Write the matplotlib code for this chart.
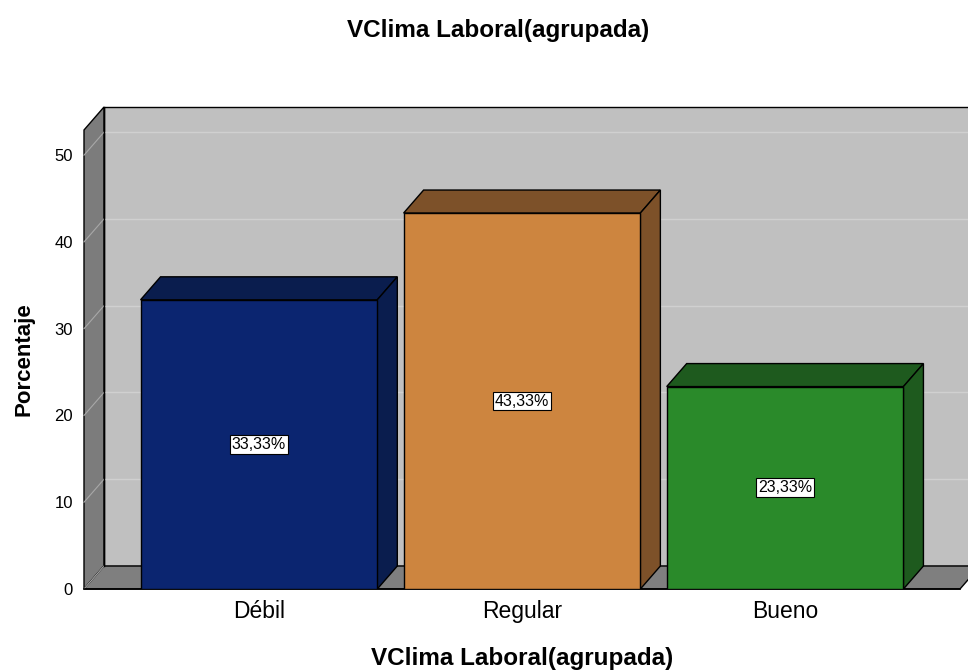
import matplotlib.pyplot as plt
from matplotlib.patches import Polygon, Rectangle

# Data
categories = ["Débil", "Regular", "Bueno"]
percentages = [33.33, 43.33, 23.33]
value_labels = ["33,33%", "43,33%", "23,33%"]
y_ticks = [0, 10, 20, 30, 40, 50]

front_colors = ["#0b2570", "#cd853f", "#2a8a2a"]
shade_colors = ["#0a1d4e", "#7d5129", "#1e5a1e"]

plt.rcParams['font.family'] = ['Liberation Sans', 'DejaVu Sans']

fig = plt.figure(figsize=(9.68, 6.70), dpi=100)
ax = fig.add_axes([84 / 968, 81 / 670, 876 / 968, 459 / 670])

xmin, xmax = -0.665, 2.665
ymax = 52.9
dx, dy = 0.076, 2.65   # depth offset of the pseudo-3D box
bar_w = 0.90

ax.set_xlim(xmin, xmax)
ax.set_ylim(0, ymax)

# back wall
ax.add_patch(Polygon([(xmin + dx, dy), (xmax + dx, dy), (xmax + dx, ymax + dy), (xmin + dx, ymax + dy)],
                     closed=True, facecolor="#c0c0c0", edgecolor="black", lw=1.0, clip_on=False, zorder=1))
# left wall
ax.add_patch(Polygon([(xmin, 0), (xmin + dx, dy), (xmin + dx, ymax + dy), (xmin, ymax)],
                     closed=True, facecolor="#7c7c7c", edgecolor="black", lw=1.0, clip_on=False, zorder=1))
# floor
ax.add_patch(Polygon([(xmin, 0), (xmax, 0), (xmax + dx, dy), (xmin + dx, dy)],
                     closed=True, facecolor="#7f7f7f", edgecolor="black", lw=1.0, clip_on=False, zorder=1))

# grid lines on walls
for t in y_ticks:
    if t > 0:
        ax.plot([xmin + dx, xmax + dx], [t + dy, t + dy], color="#d0d0d0", lw=1.0, clip_on=False, zorder=2)
    ax.plot([xmin, xmin + dx], [t, t + dy], color="#a8a8a8", lw=0.8, clip_on=False, zorder=2)
ax.plot([xmin + dx, xmin + dx], [dy, ymax + dy], color="black", lw=1.0, clip_on=False, zorder=2)

# bars
for i, (v, fc, sc) in enumerate(zip(percentages, front_colors, shade_colors)):
    x0, x1 = i - bar_w / 2, i + bar_w / 2
    ax.add_patch(Polygon([(x0, v), (x1, v), (x1 + dx, v + dy), (x0 + dx, v + dy)],
                         closed=True, facecolor=sc, edgecolor="black", lw=1.0, zorder=3))
    ax.add_patch(Polygon([(x1, 0), (x1 + dx, dy), (x1 + dx, v + dy), (x1, v)],
                         closed=True, facecolor=sc, edgecolor="black", lw=1.0, zorder=3))
    ax.add_patch(Rectangle((x0, 0), bar_w, v, facecolor=fc, edgecolor="black", lw=1.0, zorder=4))
    ax.text(i, v / 2, value_labels[i], ha="center", va="center", fontsize=11.5, zorder=5,
            bbox=dict(boxstyle="square,pad=0.12", facecolor="white", edgecolor="black", lw=0.8))

ax.plot([xmin, xmax], [0, 0], color="black", lw=1.2, clip_on=False, zorder=2)

for s in ax.spines.values():
    s.set_visible(False)
ax.patch.set_visible(False)
ax.set_yticks(y_ticks)
ax.set_xticks(range(len(categories)))
ax.set_xticklabels(categories, fontsize=16.5)
ax.tick_params(axis="y", length=0, pad=8, labelsize=12)
ax.tick_params(axis="x", length=0, pad=8)

ax.set_xlabel("VClima Laboral(agrupada)", fontsize=17.5, fontweight="bold", va="center")
ax.xaxis.set_label_coords(0.5, (589 - 659) / 459)
ax.set_ylabel("Porcentaje", fontsize=16, fontweight="bold", va="center")
ax.yaxis.set_label_coords((24 - 84) / 876, 0.5)
fig.text(498 / 968, 1 - 30 / 670, "VClima Laboral(agrupada)", ha="center", va="center",
         fontsize=17.5, fontweight="bold")

fig.savefig("out.png", dpi=100)
